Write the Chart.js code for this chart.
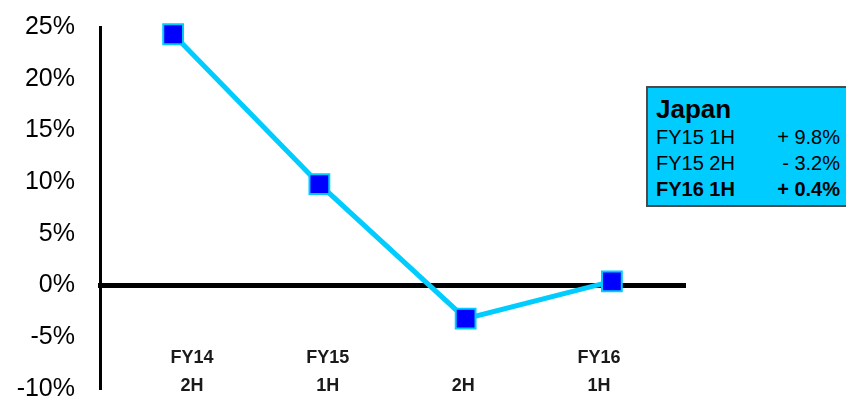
<!DOCTYPE html>
<html>
<head>
<meta charset="utf-8">
<script src="https://cdn.jsdelivr.net/npm/chart.js@4"></script>
<style>
  html, body { margin: 0; padding: 0; background: #fff; }
  #wrap { position: relative; width: 846px; height: 399px; overflow: hidden; }
  #note {
    position: absolute; left: 646px; top: 86px; width: 206px; height: 121px;
    box-sizing: border-box; background: #00ccff; border: 2px solid #4a4a4a;
    font-family: "Liberation Sans", Arial, sans-serif; color: #000;
  }
  #note .title { position: absolute; left: 8px; top: 6px; font-size: 26px; line-height: 30px; font-weight: bold; }
  #note .row { position: absolute; left: 8px; width: 184px; font-size: 20px; line-height: 24px; display: flex; justify-content: space-between; }
  #note .row.bold { font-weight: bold; }
</style>
</head>
<body>
<div id="wrap">
  <canvas id="c" width="846" height="399"></canvas>
  <div id="note"></div>
</div>
<script>
// Half-year periods (two-line axis labels) and Japan growth rate, %
const periods = [['FY14', '2H'], ['FY15', '1H'], ['', '2H'], ['FY16', '1H']];
const growth = [24.3, 9.8, -3.2, 0.4];
const yTicks = { min: -10, max: 25, step: 5 };

// Summary box rows: period name and index into growth
const boxTitle = 'Japan';
const boxRows = [
  { name: 'FY15 1H', idx: 1, bold: false },
  { name: 'FY15 2H', idx: 2, bold: false },
  { name: 'FY16 1H', idx: 3, bold: true }
];

const fmt = v => (v < 0 ? '- ' : '+ ') + Math.abs(v).toFixed(1) + '%';
const note = document.getElementById('note');
const t = document.createElement('div');
t.className = 'title'; t.textContent = boxTitle; note.appendChild(t);
boxRows.forEach((r, i) => {
  const d = document.createElement('div');
  d.className = 'row' + (r.bold ? ' bold' : '');
  d.style.top = (37 + i * 26) + 'px';
  const a = document.createElement('span'); a.textContent = r.name;
  const b = document.createElement('span'); b.textContent = fmt(growth[r.idx]);
  d.appendChild(a); d.appendChild(b);
  note.appendChild(d);
});

const FONT = '"Liberation Sans", Arial, sans-serif';
// keep tick labels from pushing the plot area inward
const noEdgePadding = s => { s.paddingTop = 0; s.paddingBottom = 0; s.paddingLeft = 0; s.paddingRight = 0; };
const hiddenGrid = { display: true, drawOnChartArea: false, drawTicks: false, color: 'rgba(0,0,0,0)' };

new Chart(document.getElementById('c'), {
  type: 'line',
  data: {
    labels: periods,
    datasets: [{
      data: growth,
      xAxisID: 'x',
      borderColor: '#00ccff',
      borderWidth: 5,
      tension: 0,
      pointStyle: 'rect',
      pointRadius: 14,
      pointHoverRadius: 14,
      pointBackgroundColor: '#0000ff',
      pointBorderColor: '#00ccff',
      pointBorderWidth: 2,
      clip: false
    }]
  },
  options: {
    responsive: false,
    animation: false,
    events: [],
    layout: { autoPadding: false, padding: { top: 27, bottom: 10, right: 161, left: 0 } },
    plugins: { legend: { display: false }, tooltip: { enabled: false } },
    scales: {
      // category axis carrying the points; its border is the 0% line
      x: {
        type: 'category',
        offset: true,
        position: { y: 0 },
        afterFit: noEdgePadding,
        grid: hiddenGrid,
        border: { display: true, color: '#000', width: 5 },
        ticks: { display: false }
      },
      // label axis: period names set slightly tighter than the points
      xl: {
        type: 'linear',
        position: { y: 0 },
        min: -0.678, max: 3.634,
        afterFit: noEdgePadding,
        afterBuildTicks: s => { s.ticks = periods.map((p, i) => ({ value: i })); },
        grid: hiddenGrid,
        border: { display: false },
        ticks: {
          maxRotation: 0, autoSkip: false, padding: 58, color: '#1a1a1a',
          font: { family: FONT, size: 18, weight: 'bold', lineHeight: 1.556 },
          callback: v => periods[v]
        }
      },
      y: {
        min: yTicks.min, max: yTicks.max,
        afterFit: s => { s.width = 100; noEdgePadding(s); },
        grid: hiddenGrid,
        border: { display: true, color: '#000', width: 3 },
        ticks: {
          stepSize: yTicks.step, padding: 25, color: '#000',
          font: { family: FONT, size: 25 },
          callback: v => v + '%'
        }
      }
    }
  }
});
</script>
</body>
</html>
